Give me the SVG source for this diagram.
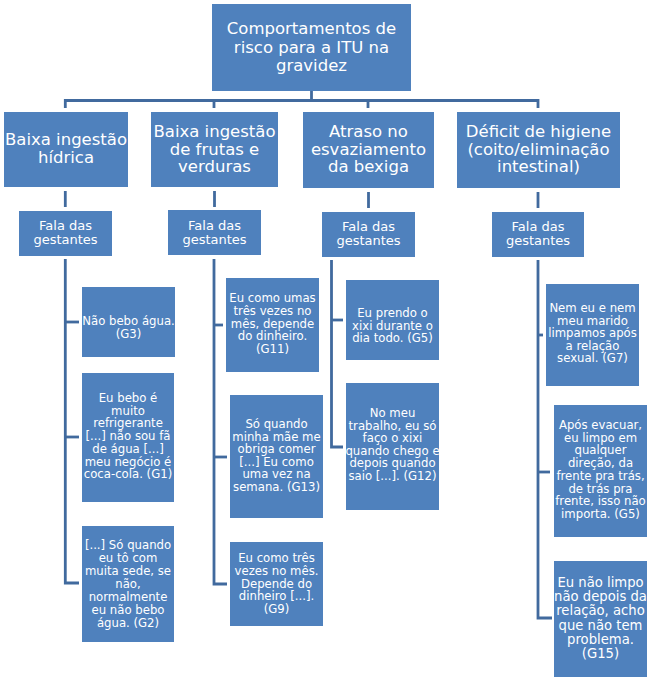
<svg xmlns="http://www.w3.org/2000/svg" width="654" height="685" viewBox="0 0 654 685">
<style>
.box{fill:#4F81BD}
.t{fill:#FFFFFF;font-family:"DejaVu Sans",Verdana,sans-serif;text-anchor:middle}
.big{font-size:16.5px}
.mid{font-size:13px}
.sm{font-size:11.7px}
.ln{fill:none;stroke:#416A9E;stroke-width:2.8;stroke-linejoin:miter;stroke-linecap:butt}
</style>
<rect width="654" height="685" fill="#FFFFFF"/>
<g id="connectors">
<path class="ln" d="M311.5,90 V100.5"/>
<path class="ln" d="M65.3,108 V100.5 H538 V108"/>
<path class="ln" d="M214,100.5 V108"/>
<path class="ln" d="M368,100.5 V108"/>
<path class="ln" d="M65.3,191 V207"/>
<path class="ln" d="M214.5,191 V207"/>
<path class="ln" d="M368.5,192 V208"/>
<path class="ln" d="M538,192 V208"/>
<path class="ln" d="M65.3,259 V583 H79"/>
<path class="ln" d="M65.3,322 H79"/>
<path class="ln" d="M65.3,437 H79"/>
<path class="ln" d="M214,259 V584 H227"/>
<path class="ln" d="M214,325 H223"/>
<path class="ln" d="M214,457 H227"/>
<path class="ln" d="M331.5,260 V447 H343"/>
<path class="ln" d="M331.5,320 H343"/>
<path class="ln" d="M538,260 V618 H552"/>
<path class="ln" d="M538,335 H543"/>
<path class="ln" d="M538,472 H550"/>
</g>
<g id="root">
<rect class="box" x="212" y="4" width="199" height="87"/>
<text class="t big" x="311.5" y="34">Comportamentos de<tspan x="311.5" dy="18.5">risco para a ITU na</tspan><tspan x="311.5" dy="18.5">gravidez</tspan></text>
</g>
<g id="cat1">
<rect class="box" x="4" y="112" width="124" height="75"/>
<text class="t big" x="66" y="145">Baixa ingestão<tspan x="66" dy="18">hídrica</tspan></text>
</g>
<g id="cat2">
<rect class="box" x="151" y="112" width="127" height="75"/>
<text class="t big" x="214.5" y="137">Baixa ingestão<tspan x="214.5" dy="17.5">de frutas e</tspan><tspan x="214.5" dy="17.5">verduras</tspan></text>
</g>
<g id="cat3">
<rect class="box" x="303" y="112" width="131" height="76"/>
<text class="t big" x="368.5" y="137">Atraso no<tspan x="368.5" dy="17.5">esvaziamento</tspan><tspan x="368.5" dy="17.5">da bexiga</tspan></text>
</g>
<g id="cat4">
<rect class="box" x="457" y="112" width="163" height="76"/>
<text class="t big" x="538.5" y="137">Déficit de higiene<tspan x="538.5" dy="17.5">(coito/eliminação</tspan><tspan x="538.5" dy="17.5">intestinal)</tspan></text>
</g>
<g id="fala1">
<rect class="box" x="19" y="211" width="93" height="45"/>
<text class="t mid" x="65.5" y="230">Fala das<tspan x="65.5" dy="14">gestantes</tspan></text>
</g>
<g id="fala2">
<rect class="box" x="168" y="210" width="93" height="45"/>
<text class="t mid" x="214.5" y="229.5">Fala das<tspan x="214.5" dy="14">gestantes</tspan></text>
</g>
<g id="fala3">
<rect class="box" x="322" y="212" width="93" height="45"/>
<text class="t mid" x="368.5" y="230.5">Fala das<tspan x="368.5" dy="14">gestantes</tspan></text>
</g>
<g id="fala4">
<rect class="box" x="492" y="212" width="92" height="45"/>
<text class="t mid" x="538" y="230.5">Fala das<tspan x="538" dy="14">gestantes</tspan></text>
</g>
<g id="q1a">
<rect class="box" x="82" y="287" width="93" height="70"/>
<text class="t sm" x="128.5" y="325">Não bebo água.<tspan x="128.5" dy="13">(G3)</tspan></text>
</g>
<g id="q1b">
<rect class="box" x="82" y="373" width="92" height="129"/>
<text class="t sm" x="128" y="402">Eu bebo é<tspan x="128" dy="12.7">muito</tspan><tspan x="128" dy="12.7">refrigerante</tspan><tspan x="128" dy="12.7">[...] não sou fã</tspan><tspan x="128" dy="12.7">de água [...]</tspan><tspan x="128" dy="12.7">meu negócio é</tspan><tspan x="128" dy="12.7">coca-cola. (G1)</tspan></text>
</g>
<g id="q1c">
<rect class="box" x="82" y="526" width="92" height="116"/>
<text class="t sm" x="128" y="549">[...] Só quando<tspan x="128" dy="13">eu tô com</tspan><tspan x="128" dy="13">muita sede, se</tspan><tspan x="128" dy="13">não,</tspan><tspan x="128" dy="13">normalmente</tspan><tspan x="128" dy="13">eu não bebo</tspan><tspan x="128" dy="13">água. (G2)</tspan></text>
</g>
<g id="q2a">
<rect class="box" x="226" y="278" width="93" height="94"/>
<text class="t sm" x="272.5" y="302">Eu como umas<tspan x="272.5" dy="12.8">três vezes no</tspan><tspan x="272.5" dy="12.8">mês, depende</tspan><tspan x="272.5" dy="12.8">do dinheiro.</tspan><tspan x="272.5" dy="12.8">(G11)</tspan></text>
</g>
<g id="q2b">
<rect class="box" x="230" y="395" width="93" height="123"/>
<text class="t sm" x="276.5" y="428">Só quando<tspan x="276.5" dy="12.6">minha mãe me</tspan><tspan x="276.5" dy="12.6">obriga comer</tspan><tspan x="276.5" dy="12.6">[...] Eu como</tspan><tspan x="276.5" dy="12.6">uma vez na</tspan><tspan x="276.5" dy="12.6">semana. (G13)</tspan></text>
</g>
<g id="q2c">
<rect class="box" x="230" y="542" width="93" height="84"/>
<text class="t sm" x="276.5" y="562">Eu como três<tspan x="276.5" dy="12.75">vezes no mês.</tspan><tspan x="276.5" dy="12.75">Depende do</tspan><tspan x="276.5" dy="12.75">dinheiro [...].</tspan><tspan x="276.5" dy="12.75">(G9)</tspan></text>
</g>
<g id="q3a">
<rect class="box" x="346" y="280" width="93" height="80"/>
<text class="t sm" x="392.5" y="317">Eu prendo o<tspan x="392.5" dy="12.5">xixi durante o</tspan><tspan x="392.5" dy="12.5">dia todo. (G5)</tspan></text>
</g>
<g id="q3b">
<rect class="box" x="346" y="383" width="93" height="127"/>
<text class="t sm" x="392.5" y="417">No meu<tspan x="392.5" dy="12.6">trabalho, eu só</tspan><tspan x="392.5" dy="12.6">faço o xixi</tspan><tspan x="392.5" dy="12.6">quando chego e</tspan><tspan x="392.5" dy="12.6">depois quando</tspan><tspan x="392.5" dy="12.6">saio [...]. (G12)</tspan></text>
</g>
<g id="q4a">
<rect class="box" x="546" y="284" width="93" height="102"/>
<text class="t sm" x="592.5" y="312">Nem eu e nem<tspan x="592.5" dy="12.5">meu marido</tspan><tspan x="592.5" dy="12.5">limpamos após</tspan><tspan x="592.5" dy="12.5">a relação</tspan><tspan x="592.5" dy="12.5">sexual. (G7)</tspan></text>
</g>
<g id="q4b">
<rect class="box" x="554" y="405" width="93" height="132"/>
<text class="t sm" x="600.5" y="429">Após evacuar,<tspan x="600.5" dy="12.7">eu limpo em</tspan><tspan x="600.5" dy="12.7">qualquer</tspan><tspan x="600.5" dy="12.7">direção, da</tspan><tspan x="600.5" dy="12.7">frente pra trás,</tspan><tspan x="600.5" dy="12.7">de trás pra</tspan><tspan x="600.5" dy="12.7">frente, isso não</tspan><tspan x="600.5" dy="12.7">importa. (G5)</tspan></text>
</g>
<g id="q4c">
<rect class="box" x="554" y="561" width="93" height="116"/>
<text class="t" style="font-size:13.2px" x="600.5" y="587">Eu não limpo<tspan x="600.5" dy="14.2">não depois da</tspan><tspan x="600.5" dy="14.2">relação, acho</tspan><tspan x="600.5" dy="14.2">que não tem</tspan><tspan x="600.5" dy="14.2">problema.</tspan><tspan x="600.5" dy="14.2">(G15)</tspan></text>
</g>
</svg>
